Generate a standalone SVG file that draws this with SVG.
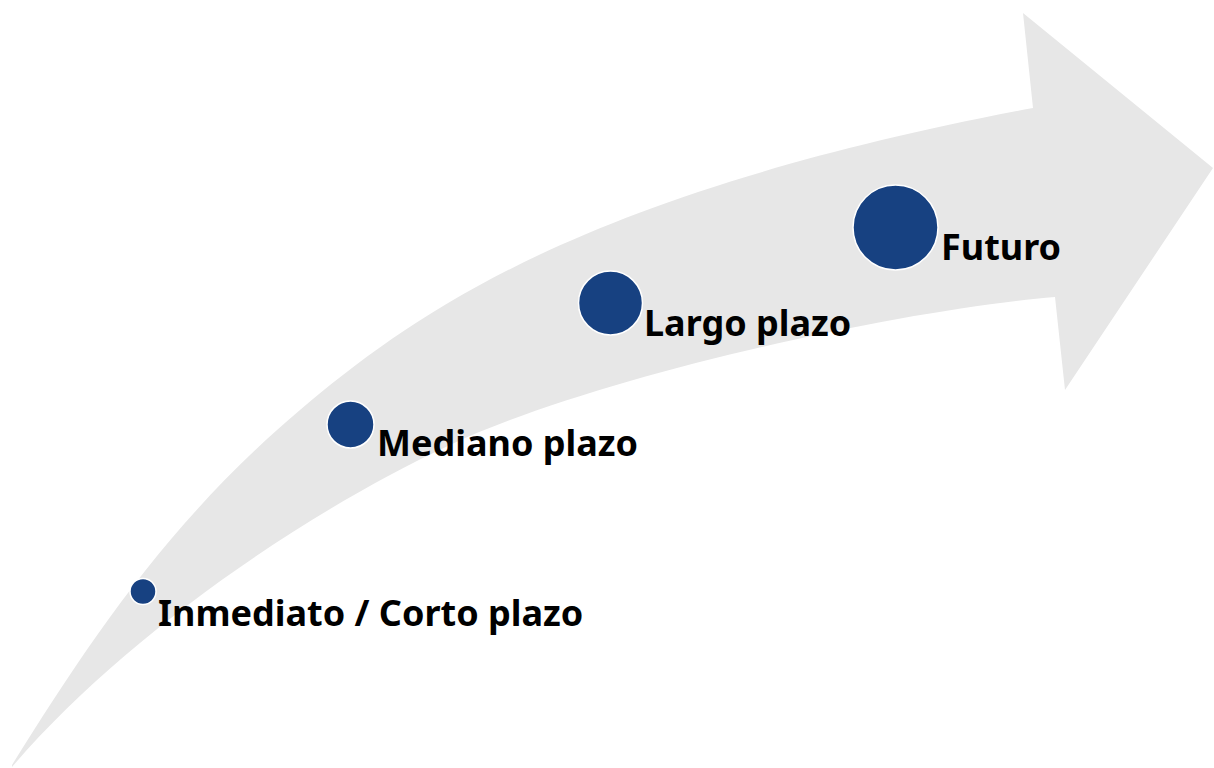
<svg xmlns="http://www.w3.org/2000/svg" width="1214" height="768" viewBox="0 0 1214 768">
<style>
.dot{fill:#174181;stroke:#ffffff;stroke-width:1.5}
.lbl{font-family:"Noto Sans","Open Sans","Liberation Sans",sans-serif;font-weight:bold;font-size:36px;fill:#000000}
</style>
<rect width="1214" height="768" fill="#ffffff"/>
<g id="arrow">
<path d="M12,765 C90,640 170,520 300,410 S600,190 1033,108 L1023,13 L1213,168 L1065,390 L1055,297 C900,310 600,375 450,445 S120,640 12,767 Z" fill="#e7e7e7"/>
</g>
<g id="connectors"></g>
<g id="node-inmediato">
<circle class="dot" cx="143" cy="591.5" r="13"/>
<text class="lbl" x="158" y="626">Inmediato / Corto plazo</text>
</g>
<g id="node-mediano">
<circle class="dot" cx="350.5" cy="424.5" r="23.5"/>
<text class="lbl" x="377" y="456">Mediano plazo</text>
</g>
<g id="node-largo">
<circle class="dot" cx="610.5" cy="303" r="32"/>
<text class="lbl" x="644" y="336">Largo plazo</text>
</g>
<g id="node-futuro">
<circle class="dot" cx="895.5" cy="227.5" r="42.5"/>
<text class="lbl" x="941" y="260">Futuro</text>
</g>
</svg>
